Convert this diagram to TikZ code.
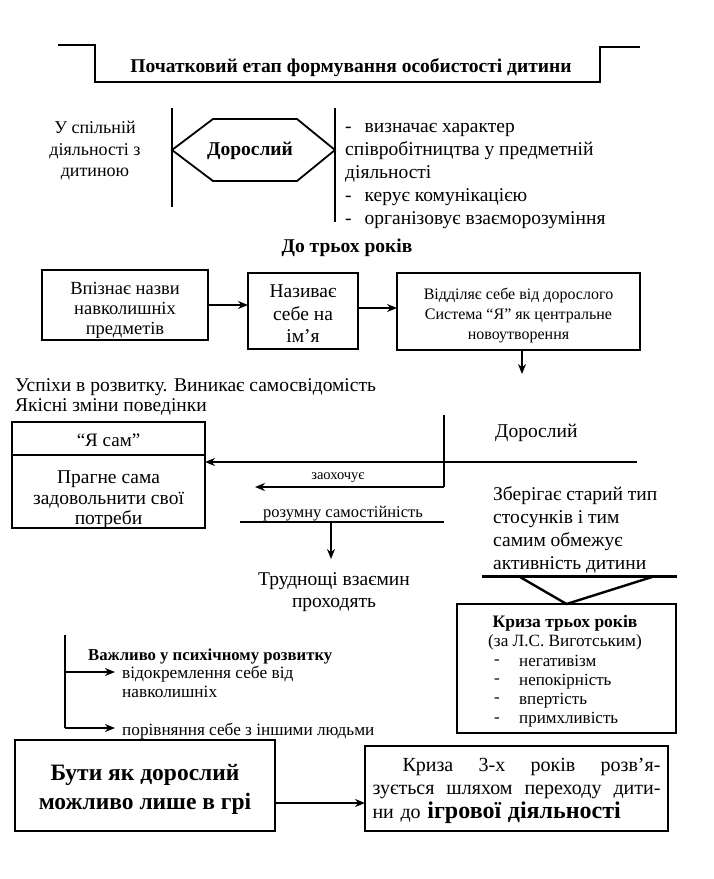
\documentclass[tikz,border=0pt]{standalone}
\usepackage{fontspec}
\setmainfont{Liberation Serif}
\usetikzlibrary{arrows.meta,calc}
\tikzset{
  frame/.style={draw, line width=1.5pt, inner sep=2pt, outer sep=0pt, align=center},
  thickframe/.style={draw, line width=2.6pt, inner sep=2pt, outer sep=0pt, align=center},
  arr/.style={-{Stealth[length=10pt,width=8pt]}, line width=1.5pt},
  ln/.style={line width=1.5pt},
  body/.style={font=\fontsize{19.5}{21}\selectfont, align=center, inner sep=0pt},
  small/.style={font=\fontsize{17}{19}\selectfont, inner sep=0pt},
}
\begin{document}
\begin{tikzpicture}[x=1pt,y=-1pt]
\useasboundingbox (0,0) rectangle (713,879);
% title
\coordinate (t1) at (58,45); \coordinate (t2) at (95,45); \coordinate (t3) at (95,82);
\coordinate (t4) at (600,82); \coordinate (t5) at (600,47); \coordinate (t6) at (640,47);
\draw[line width=1.8pt] (t1)--(t2)--(t3)--(t4)--(t5)--(t6);
\node[font=\bfseries\fontsize{19.5}{22}\selectfont, inner sep=0pt] (title) at (351,68) {Початковий етап формування особистості дитини};
% hexagon
\coordinate (hl) at (172,150); \coordinate (htl) at (213,119); \coordinate (htr) at (297,119);
\coordinate (hr) at (335,150); \coordinate (hbr) at (297,181); \coordinate (hbl) at (213,181);
\draw[line width=1.8pt] (hl)--(htl)--(htr)--(hr)--(hbr)--(hbl)--cycle;
\coordinate (vl1) at (172,108); \coordinate (vl2) at (172,207);
\coordinate (vr1) at (335,108); \coordinate (vr2) at (335,222);
\draw[ln] (vl1)--(vl2); \draw[ln] (vr1)--(vr2);
\node[body, font=\bfseries\fontsize{19.5}{21}\selectfont] (dor) at (250,151) {Дорослий};
\node[body, font=\fontsize{18}{21.5}\selectfont] (spil) at (95,151) {У спільній\\діяльності з\\дитиною};
\node[body, align=left, anchor=west, font=\fontsize{19.5}{23}\selectfont] (func) at (345,176) {-\hspace{13pt}визначає характер\\співробітництва у предметній\\діяльності\\-\hspace{13pt}керує комунікацією\\-\hspace{13pt}організовує взаєморозуміння};
\node[body, font=\bfseries\fontsize{19.5}{21}\selectfont] (do3) at (347,248) {До трьох років};
% row of boxes
\node[frame, minimum width=166pt, minimum height=70pt] (b1) at (125,305) {};
\node[body, font=\fontsize{18.5}{20}\selectfont] (b1t) at (125,310) {Впізнає назви\\навколишніх\\предметів};
\node[frame, minimum width=110pt, minimum height=76pt] (b2) at (303,311) {};
\node[body, font=\fontsize{19.5}{22.5}\selectfont] (b2t) at (303,314) {Називає\\себе на\\ім’я};
\node[frame, minimum width=243pt, minimum height=77pt] (b3) at (518.5,311.5) {};
\node[body, font=\fontsize{16}{20}\selectfont] (b3t) at (518.5,315) {Відділяє себе від дорослого\\Система “Я” як центральне\\новоутворення};
\coordinate (a1s) at (b1.east);
\draw[arr] (a1s) -- (a1s -| b2.west);
\coordinate (a2s) at ($(b2.east)+(0,-3)$);
\draw[arr] (a2s) -- (a2s -| b3.west);
\coordinate (dn) at (522,374);
\draw[arr] (b3.south -| dn) -- (dn);
\node[body, align=left, anchor=west, font=\fontsize{19.5}{20.5}\selectfont] (usp) at (15,397) {Успіхи в розвитку. Виникає самосвідомість\\Якісні зміни поведінки};
% Ya sam
\node[frame, minimum width=193pt, minimum height=33pt] (ya) at (108.5,438.5) {};
\node[body, font=\fontsize{19}{21}\selectfont] (yat) at (108.5,440) {“Я сам”};
\node[frame, minimum width=193pt, minimum height=73pt, anchor=north] (yab) at (ya.south) {};
\node[body, font=\fontsize{19.5}{20.5}\selectfont] (yabt) at (108.5,500) {Прагне сама\\задовольнити свої\\потреби};
\node[body, anchor=west] (dor2) at (495,433) {Дорослий};
\coordinate (d1) at (637,462);
\draw[arr] (d1) -- (d1 -| yab.east);
\coordinate (v1) at (444,415); \coordinate (v2) at (444,487); \coordinate (z1) at (255,487);
\draw[ln] (v1) -- (v2);
\draw[arr] (v2) -- (z1);
\node[small, font=\fontsize{14.5}{17}\selectfont] (zao) at (338,478) {заохочує};
\node[small, font=\fontsize{16.5}{19}\selectfont] (roz) at (343,514) {розумну самостійність};
\coordinate (r1) at (240,522); \coordinate (r2) at (444,522); \coordinate (r3) at (331,522);
\coordinate (r4) at (331,559);
\draw[ln] (r1) -- (r2);
\draw[arr] (r3) -- (r4);
\node[body, font=\fontsize{19.5}{22}\selectfont] (trud) at (334,592) {Труднощі взаємин\\проходять};
\node[body, align=left, anchor=west, font=\fontsize{19.5}{23}\selectfont] (zber) at (493,529.5) {Зберігає старий тип\\стосунків і тим\\самим обмежує\\активність дитини};
% crisis
\coordinate (k1) at (482,576); \coordinate (k2) at (677,576);
\draw[line width=3pt] (k1) -- (k2);
\node[frame, minimum width=219pt, minimum height=129pt, anchor=north] (kr) at (566.5,604) {};
\coordinate (k3) at (520,577); \coordinate (k4) at (652,577);
\draw[line width=2.4pt] (k3) -- (kr.north) -- (k4);
\node[font=\bfseries\fontsize{17.5}{20}\selectfont, inner sep=0pt] (krt) at (565,623) {Криза трьох років};
\node[small, font=\fontsize{17.2}{20}\selectfont] (krv) at (565,642) {(за Л.С. Виготським)};
\node[small, align=left, anchor=west, font=\fontsize{17}{19.2}\selectfont] (krd) at (494,691) {-\\-\\-\\-};
\node[small, anchor=west, align=left, font=\fontsize{17}{19.2}\selectfont] (krl) at (519,691) {негативізм\\непокірність\\впертість\\примхливість};
% important
\coordinate (p1) at (65,635); \coordinate (p2) at (65,728);
\coordinate (p3) at (65,672); \coordinate (p4) at (115,672); \coordinate (p5) at (115,728);
\draw[line width=2pt] (p1) -- (p2);
\draw[arr] (p3) -- (p4);
\draw[arr] (p2) -- (p5);
\node[font=\bfseries\fontsize{16.7}{19}\selectfont, inner sep=0pt, anchor=west] (vazh) at (88,656) {Важливо у психічному розвитку};
\node[small, anchor=west, align=left, font=\fontsize{17.3}{18.5}\selectfont] (vidk) at (122,682) {відокремлення себе від\\навколишніх};
\node[small, anchor=west, font=\fontsize{17.2}{19}\selectfont] (porivn) at (122,731) {порівняння себе з іншими людьми};
% bottom boxes
\node[thickframe, minimum width=260pt, minimum height=91pt] (bl) at (145,785.5) {};
\node[body, font=\bfseries\fontsize{23.5}{29}\selectfont] (blt) at (145,789) {Бути як дорослий\\можливо лише в грі};
\node[thickframe, minimum width=303pt, minimum height=85pt, anchor=west] (br) at (365,788.5) {};
\node[font=\fontsize{20}{23.5}\selectfont, inner sep=0pt, text width=288pt, align=left] (brt) at ($(br.center)+(0,2)$) {\hspace*{30pt}\makebox[258pt]{Криза\hfill 3-х\hfill років\hfill розв’я-}\\\makebox[288pt]{зується\hfill шляхом\hfill переходу\hfill дити-}\\ни до {\bfseries\fontsize{24}{23.5}\selectfont ігрової діяльності}};
\coordinate (a3s) at ($(bl.east)+(0,17.5)$);
\draw[arr] (a3s) -- (a3s -| br.west);
\end{tikzpicture}
\end{document}
